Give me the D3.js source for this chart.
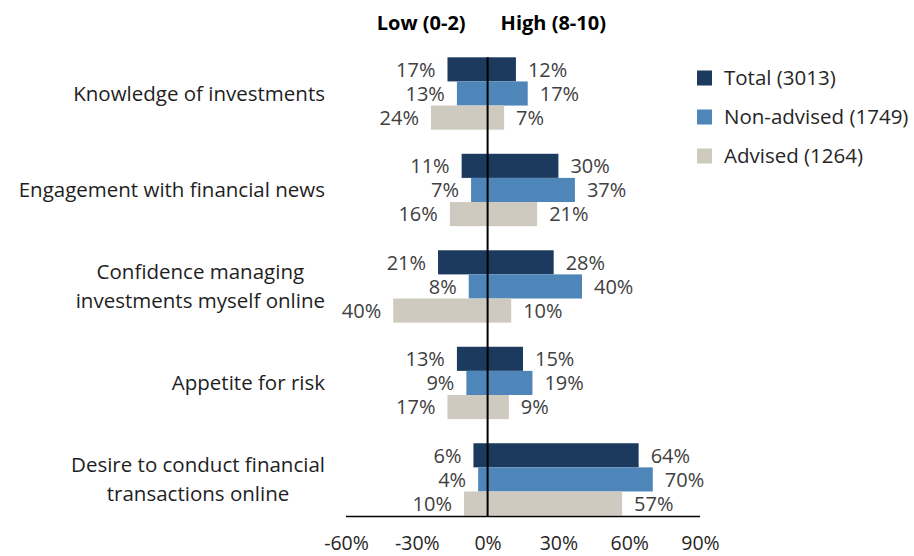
<!DOCTYPE html>
<html>
<head>
<meta charset="utf-8">
<script src="https://cdn.jsdelivr.net/npm/d3@7"></script>
<style>
    body { margin: 0; background: #fff; }
    svg { display: block; font-family: "Open Sans", sans-serif; }
</style>
</head>
<body>
<svg id="chart" width="914" height="556"></svg>
<script>
    var categories = [
        ['Knowledge of investments'],
        ['Engagement with financial news'],
        ['Confidence managing', 'investments myself online'],
        ['Appetite for risk'],
        ['Desire to conduct financial', 'transactions online']
    ];
    var seriesNames = ['Total (3013)', 'Non-advised (1749)', 'Advised (1264)'];
    var seriesColors = ['#1c3a5e', '#4f86ba', '#cecac0'];

    // low (0-2) and high (8-10) shares, one row per category
    var lowTotal = [17, 11, 21, 13, 6];
    var lowNonAdvised = [13, 7, 8, 9, 4];
    var lowAdvised = [24, 16, 40, 17, 10];
    var highTotal = [12, 30, 28, 15, 64];
    var highNonAdvised = [17, 37, 40, 19, 70];
    var highAdvised = [7, 21, 10, 9, 57];

    var xTicks = [-60, -30, 0, 30, 60, 90];
    var sideTitles = ['Low (0-2)', 'High (8-10)'];

    var lows = [lowTotal, lowNonAdvised, lowAdvised];
    var highs = [highTotal, highNonAdvised, highAdvised];

    var svg = d3.select('#chart');

    var x = d3.scaleLinear()
        .domain([-60, 90])
        .range([346, 700]);

    var y = d3.scaleBand()
        .domain(d3.range(categories.length))
        .range([57.3, 515.6])
        .paddingInner(0.25)
        .paddingOuter(0);

    var ySub = d3.scaleBand()
        .domain(d3.range(seriesNames.length))
        .range([0, y.bandwidth()]);

    var rows = [];
    categories.forEach(function(c, i) {
        seriesNames.forEach(function(s, j) {
            rows.push({ cat: i, series: j, low: lows[j][i], high: highs[j][i] });
        });
    });

    var bars = svg.append('g');

    var bar = bars.selectAll('g')
        .data(rows)
        .enter()
        .append('g')
        .attr('transform', function(d) {
            return 'translate(0,' + (y(d.cat) + ySub(d.series)) + ')';
        });

    bar.append('rect')
        .attr('x', function(d) { return x(-d.low); })
        .attr('width', function(d) { return x(d.high) - x(-d.low); })
        .attr('height', ySub.bandwidth())
        .style('fill', function(d) { return seriesColors[d.series]; });

    bar.append('text')
        .text(function(d) { return d.low + '%'; })
        .attr('x', function(d) { return x(-d.low) - 12; })
        .attr('y', ySub.bandwidth() / 2)
        .attr('dy', '0.36em')
        .attr('text-anchor', 'end')
        .style('font-size', '20px')
        .style('fill', '#404040');

    bar.append('text')
        .text(function(d) { return d.high + '%'; })
        .attr('x', function(d) { return x(d.high) + 12; })
        .attr('y', ySub.bandwidth() / 2)
        .attr('dy', '0.36em')
        .attr('text-anchor', 'start')
        .style('font-size', '20px')
        .style('fill', '#404040');

    // zero line and bottom axis
    var yTop = y(0);
    var yBottom = y(categories.length - 1) + y.bandwidth();

    svg.append('line')
        .attr('x1', x(0)).attr('x2', x(0))
        .attr('y1', yTop).attr('y2', yBottom + 1)
        .style('stroke', '#000')
        .style('stroke-width', 2);

    svg.append('line')
        .attr('x1', x(-60)).attr('x2', x(90))
        .attr('y1', yBottom + 1).attr('y2', yBottom + 1)
        .style('stroke', '#000')
        .style('stroke-width', 1.5);

    var axis = d3.axisBottom(x)
        .tickValues(xTicks)
        .tickSize(0)
        .tickPadding(0)
        .tickFormat(function(d) { return d + '%'; });

    var axisG = svg.append('g')
        .attr('transform', 'translate(0,' + (yBottom + 1) + ')')
        .call(axis);
    axisG.select('.domain').remove();
    axisG.selectAll('text')
        .attr('y', 33)
        .attr('dy', 0)
        .style('font-family', '"Open Sans", sans-serif')
        .style('font-size', '19.5px')
        .style('fill', '#262626');

    // category labels, multi-line ones centred on their widest line
    var labelRight = 325;
    var catG = svg.append('g')
        .selectAll('text')
        .data(categories)
        .enter()
        .append('text')
        .style('font-size', '20.5px')
        .style('fill', '#1e1e1e');

    catG.each(function(lines, i) {
        var t = d3.select(this);
        var lh = 29;
        var cy = y(i) + y.bandwidth() / 2 - (lines.length - 1) * lh / 2;
        lines.forEach(function(l, k) {
            t.append('tspan')
                .text(l)
                .attr('y', cy + k * lh)
                .attr('dy', '0.36em');
        });
        var maxW = 0;
        t.selectAll('tspan').each(function() {
            maxW = Math.max(maxW, this.getComputedTextLength());
        });
        t.attr('text-anchor', 'middle');
        t.selectAll('tspan').attr('x', labelRight - maxW / 2);
    });

    // side titles above the bars
    svg.append('text')
        .text(sideTitles[0])
        .attr('x', x(0) - 22)
        .attr('y', 30)
        .attr('text-anchor', 'end')
        .style('font-size', '20px')
        .style('font-weight', 'bold')
        .style('fill', '#000');

    svg.append('text')
        .text(sideTitles[1])
        .attr('x', x(0) + 13)
        .attr('y', 30)
        .attr('text-anchor', 'start')
        .style('font-size', '20px')
        .style('font-weight', 'bold')
        .style('fill', '#000');

    // legend
    var legend = svg.append('g')
        .selectAll('g')
        .data(seriesNames)
        .enter()
        .append('g')
        .attr('transform', function(d, i) {
            return 'translate(697,' + (78 + i * 39) + ')';
        });

    legend.append('rect')
        .attr('x', 0)
        .attr('y', -7.5)
        .attr('width', 15)
        .attr('height', 15)
        .style('fill', function(d, i) { return seriesColors[i]; });

    legend.append('text')
        .text(function(d) { return d; })
        .attr('x', 27)
        .attr('dy', '0.36em')
        .style('font-size', '20.5px')
        .style('fill', '#262626');
</script>
</body>
</html>
